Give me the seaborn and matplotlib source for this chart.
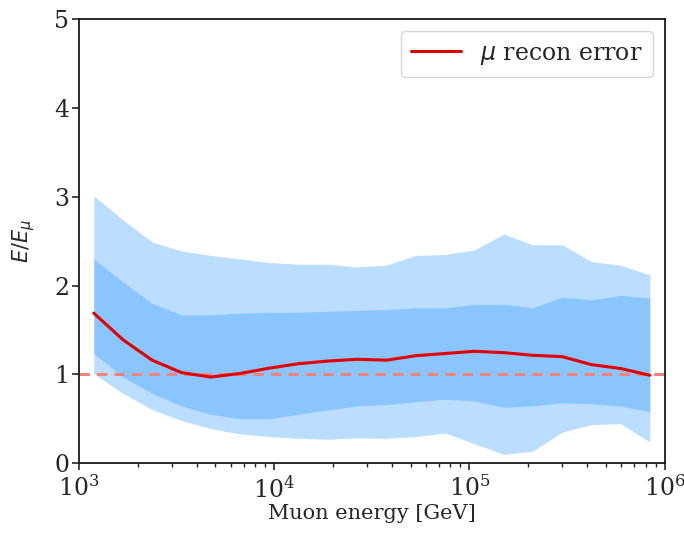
import numpy as np
import pandas as pd
import matplotlib
matplotlib.use("Agg")
import matplotlib.pyplot as plt
import seaborn as sns

energy = [1.19e3, 1.68e3, 2.37e3, 3.35e3, 4.73e3, 6.68e3, 9.44e3, 1.33e4, 1.88e4, 2.66e4,
          3.76e4, 5.31e4, 7.50e4, 1.06e5, 1.50e5, 2.11e5, 2.99e5, 4.22e5, 5.96e5, 8.41e5]
median = [1.69, 1.39, 1.16, 1.02, 0.97, 1.01, 1.07, 1.12, 1.15, 1.17,
          1.16, 1.21, 1.235, 1.26, 1.245, 1.215, 1.20, 1.11, 1.066, 0.99]
inner_hi = [2.30, 2.04, 1.80, 1.67, 1.67, 1.69, 1.70, 1.70, 1.71, 1.72,
            1.73, 1.75, 1.75, 1.79, 1.79, 1.75, 1.87, 1.84, 1.89, 1.86]
inner_lo = [1.235, 0.97, 0.785, 0.645, 0.55, 0.50, 0.50, 0.55, 0.60, 0.645,
            0.66, 0.69, 0.72, 0.70, 0.63, 0.645, 0.68, 0.67, 0.645, 0.58]
outer_hi = [3.01, 2.74, 2.49, 2.39, 2.34, 2.30, 2.26, 2.24, 2.24, 2.21,
            2.23, 2.34, 2.35, 2.40, 2.58, 2.46, 2.46, 2.27, 2.23, 2.12]
outer_lo = [1.01, 0.785, 0.605, 0.48, 0.39, 0.33, 0.30, 0.28, 0.27, 0.285,
            0.28, 0.30, 0.34, 0.22, 0.10, 0.135, 0.35, 0.435, 0.445, 0.24]

df = pd.DataFrame({"energy": energy, "median": median})

sns.set_theme(style="ticks")
plt.rcParams["font.family"] = ["DejaVu Serif"]
plt.rcParams["mathtext.fontset"] = "dejavusans"

fig = plt.figure(figsize=(6.84, 5.33), dpi=100)
ax = fig.add_axes([0.1155, 0.131, 0.856, 0.833])

ax.fill_between(energy, outer_lo, outer_hi, color="dodgerblue", alpha=0.3, linewidth=0)
ax.fill_between(energy, inner_lo, inner_hi, color="dodgerblue", alpha=0.3, linewidth=0)
ax.axhline(1, color="#f2837b", linestyle="--", linewidth=2.2, dashes=(3.4, 2.3))
sns.lineplot(data=df, x="energy", y="median", color="#e00000", linewidth=2.2,
             label=r"$\mu$ recon error", ax=ax)

ax.set_xscale("log")
ax.set_xlim(1e3, 1e6)
ax.set_ylim(0, 5)
ax.set_yticks([0, 1, 2, 3, 4, 5])
ax.set_xlabel("Muon energy [GeV]", fontsize=15, labelpad=1)
ax.set_ylabel(r"$E/E_\mu$", fontsize=15, labelpad=12)
ax.tick_params(axis="y", which="major", labelsize=17, length=5, width=1.2, pad=2)
ax.tick_params(axis="x", which="major", labelsize=17, length=5, width=1.2, pad=4)
ax.tick_params(axis="x", which="minor", length=3, width=1)
for s in ax.spines.values():
    s.set_visible(True)
    s.set_linewidth(1.3)
    s.set_color("#1a1a1a")

leg = ax.legend(loc="upper right", fontsize=17, frameon=True, handlelength=2.1,
                handletextpad=0.8, borderpad=0.45, borderaxespad=0.5, fancybox=True)

fig.savefig("out.png", dpi=100)
